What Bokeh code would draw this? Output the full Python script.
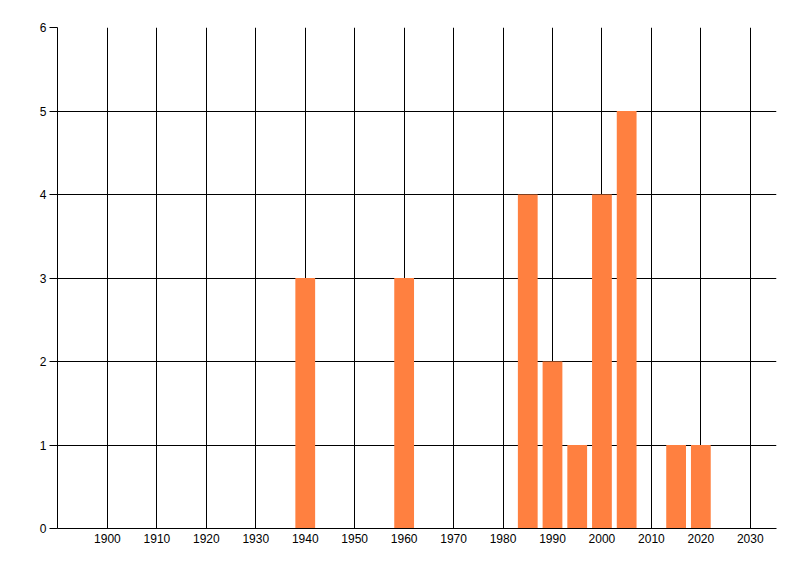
from bokeh.plotting import figure
from bokeh.models import FixedTicker, Range1d
from bokeh.embed import file_html
from bokeh.resources import INLINE

years = [1940, 1960, 1985, 1990, 1995, 2000, 2005, 2015, 2020]
counts = [3, 3, 4, 2, 1, 4, 5, 1, 1]
x_ticks = [1900, 1910, 1920, 1930, 1940, 1950, 1960, 1970, 1980, 1990, 2000, 2010, 2020, 2030]
y_ticks = [0, 1, 2, 3, 4, 5, 6]

p = figure(frame_width=719, frame_height=501,
           x_range=Range1d(1889.9, 2035.3), y_range=Range1d(0, 6),
           output_backend="svg", toolbar_location=None,
           min_border_left=57, min_border_top=27, min_border_right=8, min_border_bottom=30)
p.outline_line_color = None
p.background_fill_color = "white"
p.border_fill_color = "white"

p.vbar(x=years, top=counts, width=4, bottom=0, fill_color="#FF8040", line_color=None)

for ax in (p.xaxis[0], p.yaxis[0]):
    ax.axis_line_color = "black"
    ax.axis_line_width = 1
    ax.major_label_text_font = "Liberation Sans"
    ax.major_label_text_font_size = "12px"
    ax.major_label_text_color = "black"
    ax.minor_tick_line_color = None
    ax.major_tick_in = 0

p.xaxis.ticker = FixedTicker(ticks=x_ticks)
p.yaxis.ticker = FixedTicker(ticks=y_ticks)
p.xaxis.major_tick_out = 0
p.xaxis.major_label_standoff = 5
p.yaxis.major_tick_out = 8
p.yaxis.major_tick_line_color = "black"
p.yaxis.major_label_standoff = 3

p.xgrid.ticker = FixedTicker(ticks=x_ticks)
p.ygrid.ticker = FixedTicker(ticks=y_ticks)
for g in (p.xgrid[0], p.ygrid[0]):
    g.grid_line_color = "black"
    g.grid_line_alpha = 1
    g.grid_line_width = 1
    g.level = "underlay"

open("out.html", "w").write(file_html(p, INLINE))
